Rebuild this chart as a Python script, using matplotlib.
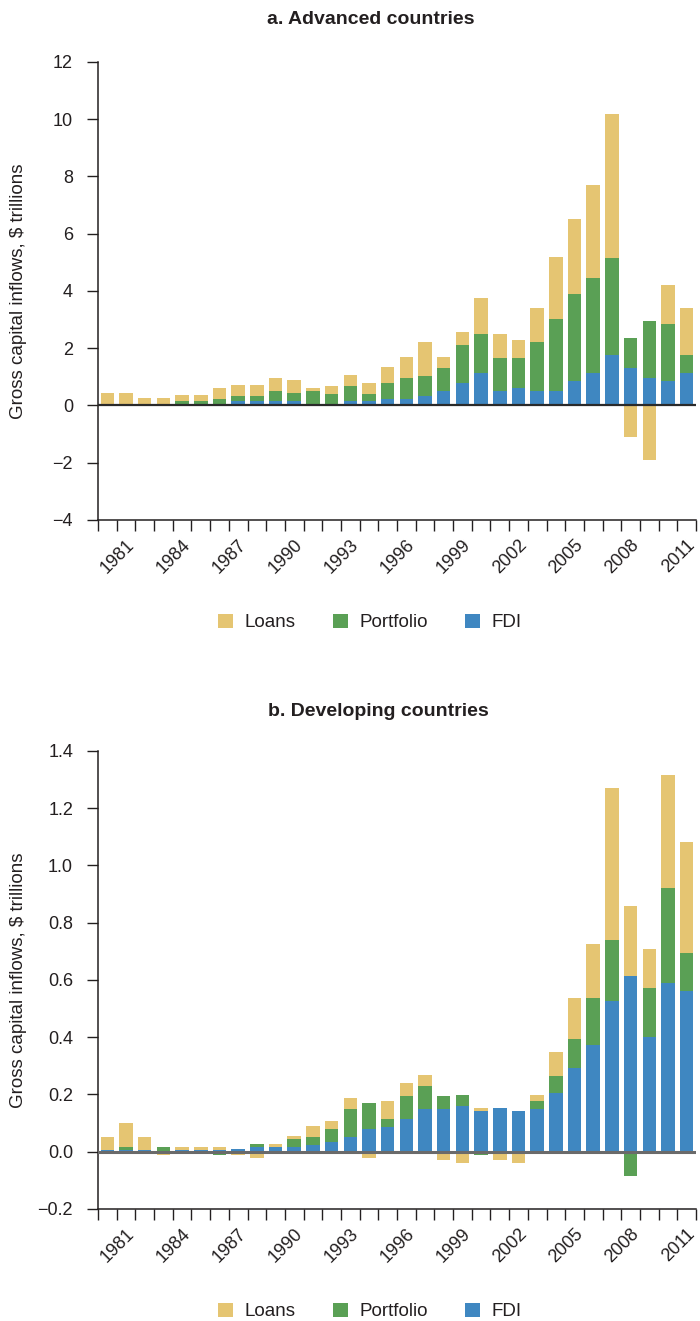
import numpy as np
import matplotlib
matplotlib.use("Agg")
import matplotlib.pyplot as plt

plt.rcParams['font.family'] = ['Liberation Sans', 'DejaVu Sans']

years = list(range(1980, 2012))
label_years = [1981, 1984, 1987, 1990, 1993, 1996, 1999, 2002, 2005, 2008, 2011]

# Panel a: Advanced countries ($ trillions)
fdi_a = [0.05, 0.05, 0.05, 0.05, 0.05, 0.05, 0.06, 0.15, 0.15, 0.15, 0.15, 0.05, 0.05, 0.15, 0.15, 0.22,
         0.22, 0.33, 0.50, 0.78, 1.13, 0.50, 0.60, 0.50, 0.50, 0.85, 1.13, 1.76, 1.30, 0.95, 0.85, 1.13]
portfolio_a = [0.0, 0.0, 0.0, 0.0, 0.10, 0.10, 0.16, 0.18, 0.18, 0.35, 0.28, 0.45, 0.35, 0.53, 0.25, 0.56,
               0.73, 0.69, 0.80, 1.33, 1.36, 1.15, 1.05, 1.71, 2.52, 3.04, 3.32, 3.39, 1.07, 2.00, 1.99, 0.63]
loans_a = [0.38, 0.38, 0.21, 0.21, 0.21, 0.21, 0.38, 0.38, 0.38, 0.45, 0.45, 0.10, 0.28, 0.38, 0.38, 0.56,
           0.74, 1.19, 0.39, 0.45, 1.26, 0.84, 0.63, 1.19, 2.16, 2.62, 3.25, 5.02, -1.11, -1.90, 1.36, 1.64]

# Panel b: Developing countries ($ trillions)
fdi_b = [0.007, 0.007, 0.007, 0.004, 0.007, 0.007, 0.007, 0.010, 0.017, 0.017, 0.017, 0.024, 0.035, 0.052,
         0.080, 0.087, 0.115, 0.150, 0.150, 0.160, 0.143, 0.153, 0.143, 0.150, 0.206, 0.293, 0.373, 0.527,
         0.614, 0.401, 0.590, 0.562]
portfolio_b = [0.0, 0.010, 0.0, 0.013, 0.0, 0.0, -0.010, 0.0, 0.011, 0.0, 0.028, 0.028, 0.045, 0.098,
               0.091, 0.028, 0.080, 0.080, 0.045, 0.039, -0.010, 0.0, 0.0, 0.028, 0.059, 0.101, 0.164,
               0.213, -0.084, 0.171, 0.331, 0.132]
loans_b = [0.045, 0.084, 0.045, -0.010, 0.010, 0.010, 0.010, -0.010, -0.021, 0.011, 0.011, 0.039, 0.028,
           0.038, -0.021, 0.063, 0.046, 0.039, -0.028, -0.038, 0.010, -0.028, -0.038, 0.021, 0.084, 0.143,
           0.189, 0.530, 0.244, 0.136, 0.394, 0.387]

series_names = ['FDI', 'Portfolio', 'Loans']
colors = {'Loans': '#E5C572', 'Portfolio': '#5AA055', 'FDI': '#3F87C1'}
text_color = '#231f20'

fig = plt.figure(figsize=(7.0, 13.21), dpi=100)
ax1 = fig.add_axes([0.14, 0.6064, 0.8543, 0.3467])
ax2 = fig.add_axes([0.14, 0.0848, 0.8543, 0.3467])


def draw(ax, data, ylim, yticks, ylabels, zero_color, zero_lw):
    x = np.arange(len(years))
    pos = np.zeros(len(years))
    neg = np.zeros(len(years))
    handles = {}
    for name in series_names:
        vals = np.array(data[name], dtype=float)
        bottom = np.where(vals >= 0, pos, neg)
        b = ax.bar(x, vals, width=0.72, bottom=bottom, color=colors[name], linewidth=0, zorder=2)
        handles[name] = b
        pos += np.clip(vals, 0, None)
        neg += np.clip(vals, None, 0)
    ax.axhline(0, color=zero_color, lw=zero_lw, zorder=3)
    ax.set_xlim(-0.5, len(years) - 0.5)
    ax.set_ylim(*ylim)
    for s in ['top', 'right']:
        ax.spines[s].set_visible(False)
    for s in ['left', 'bottom']:
        ax.spines[s].set_color(text_color)
        ax.spines[s].set_linewidth(1.1)
    ax.set_yticks(yticks)
    ax.set_yticklabels(ylabels)
    ax.tick_params(axis='y', direction='out', length=8, width=1.0, color=text_color,
                   labelsize=13, labelcolor=text_color, pad=10)
    ax.set_xticks(np.arange(-0.5, len(years), 1.0), minor=True)
    ax.tick_params(axis='x', which='minor', direction='out', length=8, width=1.0, color=text_color)
    pos_lab = [years.index(y) for y in label_years]
    ax.set_xticks(pos_lab)
    ax.set_xticklabels([str(y) for y in label_years], rotation=45, ha='right',
                       rotation_mode='anchor')
    ax.tick_params(axis='x', which='major', length=0, labelsize=13, labelcolor=text_color, pad=12)
    ax.set_ylabel('Gross capital inflows, $ trillions', fontsize=13.5, color=text_color)
    ax.yaxis.set_label_coords(-0.119, 0.5)
    leg = ax.legend([handles['Loans'], handles['Portfolio'], handles['FDI']],
                    ['Loans', 'Portfolio', 'FDI'], loc='center', ncol=3,
                    bbox_to_anchor=(0.455, -0.224), frameon=False, fontsize=13.5,
                    handlelength=0.8, handleheight=0.8, handletextpad=0.6, columnspacing=2.0,
                    borderpad=0.2)
    for t in leg.get_texts():
        t.set_color(text_color)


draw(ax1, {'FDI': fdi_a, 'Portfolio': portfolio_a, 'Loans': loans_a},
     (-4, 12), list(range(-4, 13, 2)),
     ['\u22124', '\u22122', '0', '2', '4', '6', '8', '10', '12'], '#2a2a2a', 1.6)
draw(ax2, {'FDI': fdi_b, 'Portfolio': portfolio_b, 'Loans': loans_b},
     (-0.2, 1.4), list(np.round(np.arange(-0.2, 1.41, 0.2), 1)),
     ['\u22120.2', '0.0', '0.2', '0.4', '0.6', '0.8', '1.0', '1.2', '1.4'], '#6a6a6a', 2.2)

title_font = ['Liberation Sans Narrow', 'Liberation Sans', 'DejaVu Sans']
fig.text(0.529, 1 - 19 / 1321, 'a. Advanced countries', ha='center', va='center',
         fontsize=14, fontweight='bold', family=title_font, color=text_color)
fig.text(0.541, 1 - 711 / 1321, 'b. Developing countries', ha='center', va='center',
         fontsize=14, fontweight='bold', family=title_font, color=text_color)

fig.savefig('out.png', dpi=100)
